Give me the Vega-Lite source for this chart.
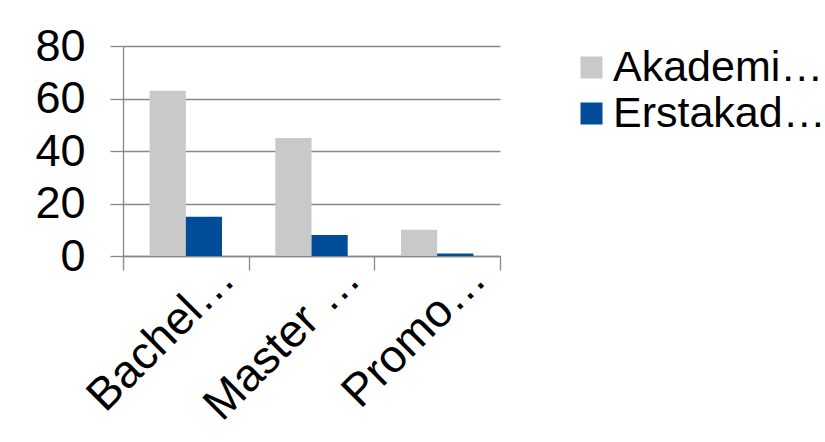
{
  "$schema": "https://vega.github.io/schema/vega-lite/v6.json",
  "width": 377,
  "height": 210,
  "autosize": {"type": "none"},
  "padding": {"left": 123, "top": 46, "right": 325, "bottom": 186},
  "background": "white",
  "config": {
    "font": "Liberation Sans",
    "view": {"stroke": null}
  },
  "data": {
    "values": [
      {"cat": "Bachel…", "series": "Akademi…", "value": 63},
      {"cat": "Bachel…", "series": "Erstakad…", "value": 15},
      {"cat": "Master …", "series": "Akademi…", "value": 45},
      {"cat": "Master …", "series": "Erstakad…", "value": 8},
      {"cat": "Promo…", "series": "Akademi…", "value": 10},
      {"cat": "Promo…", "series": "Erstakad…", "value": 1}
    ]
  },
  "mark": {"type": "bar"},
  "encoding": {
    "x": {
      "field": "cat",
      "type": "nominal",
      "sort": null,
      "title": null,
      "scale": {"paddingInner": 0, "paddingOuter": 0},
      "axis": {
        "tickBand": "extent",
        "tickSize": 14,
        "tickColor": "#888888",
        "tickWidth": 1.3,
        "domainColor": "#888888",
        "domainWidth": 1.3,
        "labelAngle": -45,
        "labelAlign": "right",
        "labelBaseline": "middle",
        "labelFontSize": 46,
        "labelColor": "black",
        "labelPadding": 1,
        "labelOffset": 41,
        "labelLimit": 400
      }
    },
    "xOffset": {
      "field": "series",
      "type": "nominal",
      "sort": null,
      "scale": {"paddingInner": 0, "paddingOuter": 0.736}
    },
    "y": {
      "field": "value",
      "type": "quantitative",
      "title": null,
      "scale": {"domain": [0, 80], "nice": false},
      "axis": {
        "values": [0, 20, 40, 60, 80],
        "grid": true,
        "gridColor": "#888888",
        "gridWidth": 1.3,
        "tickColor": "#888888",
        "tickWidth": 1.3,
        "tickSize": 13,
        "domainColor": "#888888",
        "domainWidth": 1.3,
        "labelFontSize": 45,
        "labelColor": "black",
        "labelPadding": 25
      }
    },
    "color": {
      "field": "series",
      "type": "nominal",
      "sort": null,
      "title": null,
      "scale": {"range": ["#C9C9C9", "#004C99"]},
      "legend": {
        "orient": "none",
        "legendX": 447,
        "legendY": 0,
        "symbolType": "square",
        "symbolSize": 484,
        "symbolStrokeWidth": 0,
        "labelFontSize": 43,
        "labelColor": "black",
        "labelOffset": 0,
        "rowPadding": 2,
        "labelLimit": 400
      }
    }
  }
}
